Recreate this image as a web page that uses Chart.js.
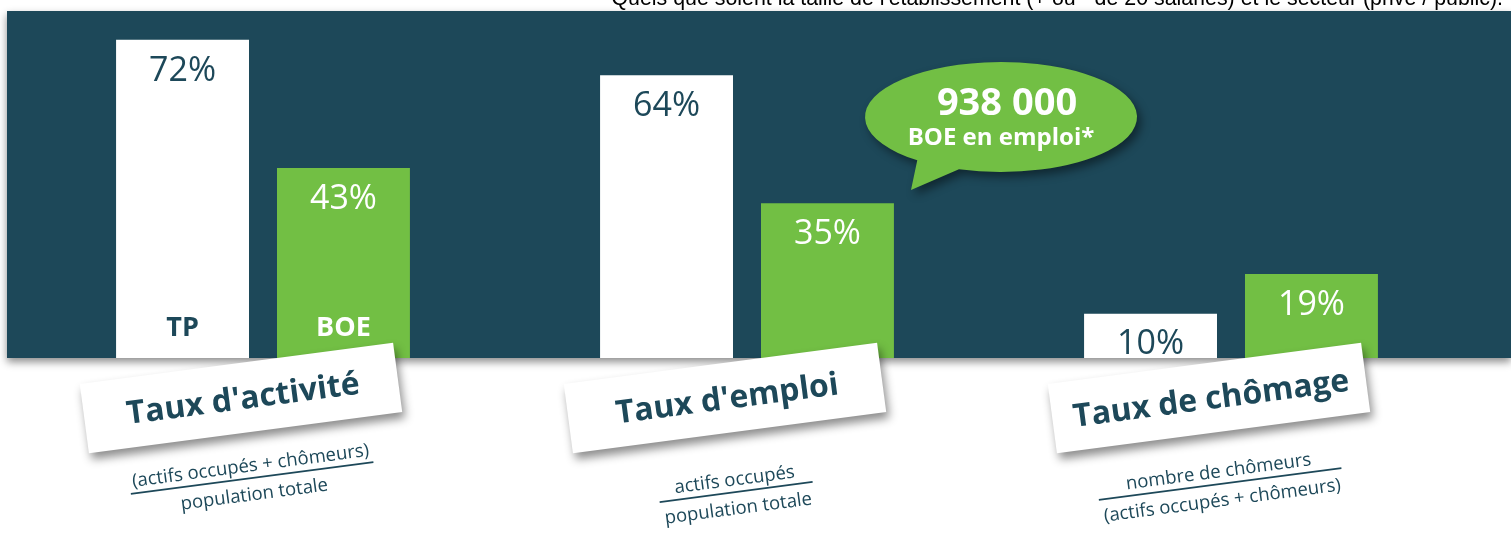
<!DOCTYPE html>
<html>
<head>
<meta charset="utf-8">
<script src="https://cdn.jsdelivr.net/npm/chart.js@4/dist/chart.umd.min.js"></script>
<style>
  html, body { margin: 0; padding: 0; background: #ffffff; }
  #wrap { width: 1511px; height: 533px; position: relative; }
</style>
</head>
<body>
<div id="wrap"><canvas id="statsChart"></canvas></div>
<script>
// Donnees
const categories = ["Taux d'activité", "Taux d'emploi", "Taux de chômage"];
const seriesNames = ['TP', 'BOE'];
const tpValues = [72, 64, 10];
const boeValues = [43, 35, 19];
const numerators = ['(actifs occupés + chômeurs)', 'actifs occupés', 'nombre de chômeurs'];
const denominators = ['population totale', 'population totale', '(actifs occupés + chômeurs)'];
const bubbleLines = ['938 000', 'BOE en emploi*'];
const topNote = "Quels que soient la taille de l'établissement (+ ou - de 20 salariés) et le secteur (privé / public).";

const TEAL = '#1d4859';
const GREEN = '#72bf44';
const FONT = '"Open Sans", "Noto Sans", sans-serif';
const TILT = -7.5 * Math.PI / 180;
const formulaY = [477, 491, 483];

const decor = {
    id: 'decor',
    beforeDraw(chart) {
        const { ctx, chartArea: a, width } = chart;
        ctx.save();
        // note du haut, coupee par le bord
        ctx.fillStyle = '#000';
        ctx.font = '20px "Liberation Sans", Arial, sans-serif';
        const nw = ctx.measureText(topNote).width;
        ctx.font = (20 * 892 / nw).toFixed(2) + 'px "Liberation Sans", Arial, sans-serif';
        ctx.textAlign = 'right';
        ctx.textBaseline = 'alphabetic';
        ctx.fillText(topNote, width - 8, 5);
        // panneau fonce
        ctx.shadowColor = 'rgba(0,0,0,0.45)';
        ctx.shadowBlur = 8;
        ctx.shadowOffsetY = 4;
        ctx.fillStyle = TEAL;
        ctx.fillRect(a.left - 14, a.top - 1, width - (a.left - 14), a.bottom - a.top + 1);
        ctx.restore();
    },
    afterDatasetsDraw(chart) {
        const { ctx } = chart;
        const m0 = chart.getDatasetMeta(0);
        const m1 = chart.getDatasetMeta(1);
        ctx.save();
        ctx.textAlign = 'center';
        ctx.textBaseline = 'middle';

        // valeurs en haut des barres
        ctx.font = '34px ' + FONT;
        [m0, m1].forEach((meta, d) => {
            ctx.fillStyle = d === 0 ? TEAL : '#ffffff';
            meta.data.forEach((bar, i) => {
                const v = chart.data.datasets[d].data[i];
                ctx.fillText(v + '%', bar.x, bar.y + 31);
            });
        });

        // TP / BOE dans le premier groupe
        ctx.font = 'bold 27px ' + FONT;
        [m0, m1].forEach((meta, d) => {
            const bar = meta.data[0];
            ctx.fillStyle = d === 0 ? TEAL : '#ffffff';
            ctx.fillText(seriesNames[d], bar.x, bar.base - 30);
        });

        // etiquettes des categories sur cartes inclinees
        const xs = chart.scales.x;
        categories.forEach((cat, i) => {
            const gx = xs.getPixelForValue(i);
            ctx.save();
            ctx.translate(gx - 22, 398);
            ctx.rotate(TILT);
            ctx.shadowColor = 'rgba(0,0,0,0.45)';
            ctx.shadowBlur = 10;
            ctx.shadowOffsetX = 3;
            ctx.shadowOffsetY = 6;
            ctx.fillStyle = '#ffffff';
            ctx.fillRect(-158, -35, 316, 70);
            ctx.shadowColor = 'transparent';
            ctx.fillStyle = TEAL;
            ctx.font = 'bold 32px ' + FONT;
            ctx.fillText(cat, 2, 2);
            ctx.restore();

            // formule
            ctx.save();
            ctx.translate(gx - 11, formulaY[i]);
            ctx.rotate(TILT);
            ctx.font = '18.5px ' + FONT;
            ctx.fillStyle = TEAL;
            const w = Math.max(ctx.measureText(numerators[i]).width, ctx.measureText(denominators[i]).width) + 6;
            ctx.fillText(numerators[i], 0, -11);
            ctx.fillText(denominators[i], 0, 18);
            ctx.strokeStyle = TEAL;
            ctx.lineWidth = 1.8;
            ctx.beginPath();
            ctx.moveTo(-w / 2, 1);
            ctx.lineTo(w / 2, 1);
            ctx.stroke();
            ctx.restore();
        });

        // bulle
        const bx = 1001, by = 117, rx = 136, ry = 55;
        const rad = Math.PI / 180;
        ctx.save();
        ctx.shadowColor = 'rgba(0,0,0,0.45)';
        ctx.shadowBlur = 10;
        ctx.shadowOffsetX = 4;
        ctx.shadowOffsetY = 5;
        ctx.fillStyle = GREEN;
        ctx.beginPath();
        ctx.ellipse(bx, by, rx, ry, 0, 128 * rad, 108 * rad, false);
        ctx.lineTo(911, 190);
        ctx.closePath();
        ctx.fill();
        ctx.restore();
        ctx.fillStyle = '#ffffff';
        ctx.font = 'bold 38px ' + FONT;
        ctx.fillText(bubbleLines[0], 1007, 104);
        ctx.font = 'bold 24px ' + FONT;
        ctx.fillText(bubbleLines[1], 1001, 138);
        ctx.restore();
    }
};

document.addEventListener('DOMContentLoaded', () => {
    const ctx = document.getElementById('statsChart');
    new Chart(ctx, {
        type: 'bar',
        data: {
            labels: categories,
            datasets: [
                { label: seriesNames[0], data: tpValues, backgroundColor: '#ffffff' },
                { label: seriesNames[1], data: boeValues, backgroundColor: GREEN }
            ]
        },
        options: {
            responsive: true,
            maintainAspectRatio: false,
            animation: false,
            categoryPercentage: 0.665,
            barPercentage: 0.826,
            layout: { padding: { left: 21, right: 38, top: 12, bottom: 175 } },
            scales: {
                x: { display: false },
                y: { display: false, min: 0, max: 78.3 }
            },
            plugins: {
                legend: { display: false },
                tooltip: { enabled: false }
            }
        },
        plugins: [decor]
    });
});
</script>
</body>
</html>
